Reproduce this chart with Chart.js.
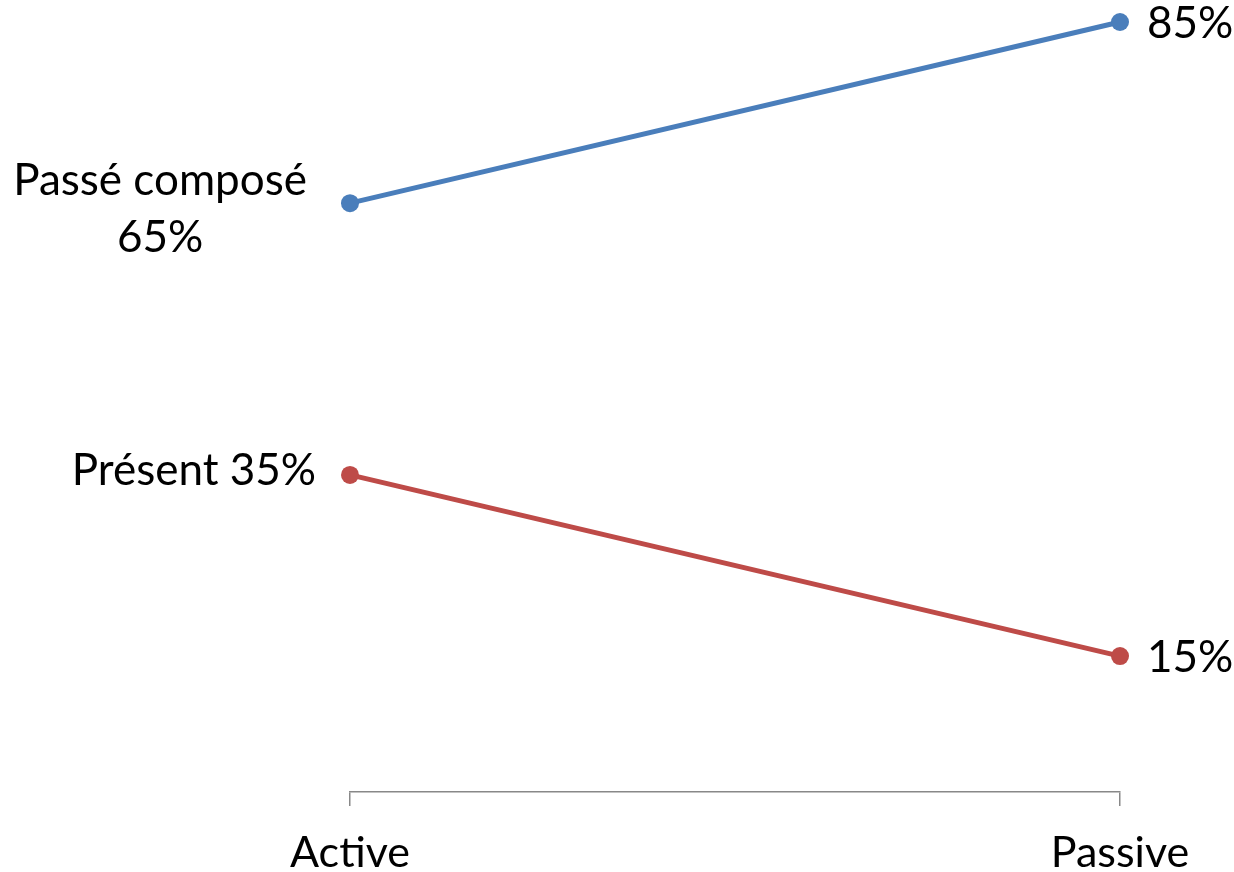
<!DOCTYPE html>
<html>
<head>
<meta charset="utf-8">
<script src="https://cdn.jsdelivr.net/npm/chart.js@4"></script>
<style>
  html, body { margin: 0; padding: 0; background: #ffffff; }
  #wrap { width: 1234px; height: 872px; }
</style>
</head>
<body>
<div id="wrap"><canvas id="c"></canvas></div>
<script>
// Categories on the x axis
const categories = ["Active", "Passive"];
// Series names and their shares (%)
const seriesNames = ["Passé composé", "Présent"];
const passeCompose = [65, 85];
const present = [35, 15];
const seriesColors = ["#4A7EBB", "#BE4B48"];

const FONT_FAMILY = "Lato, Carlito, 'Liberation Sans', sans-serif";
const LABEL_SIZE = 44;

// Draws the value labels next to each point: the series name goes with the
// first category (left of the point), the bare value with the last one (right).
const pointLabels = {
  id: 'pointLabels',
  afterDatasetsDraw(chart) {
    const ctx = chart.ctx;
    ctx.save();
    ctx.font = LABEL_SIZE + 'px ' + FONT_FAMILY;
    ctx.fillStyle = '#000000';
    ctx.textBaseline = 'alphabetic';
    const capHalf = LABEL_SIZE * 0.72 / 2;
    const lineH = 57;
    chart.data.datasets.forEach((ds, i) => {
      const meta = chart.getDatasetMeta(i);
      meta.data.forEach((pt, j) => {
        const val = ds.data[j] + '%';
        const first = j === 0;
        let lines;
        if (first) {
          const one = ds.label + ' ' + val;
          lines = ctx.measureText(one).width > 300 ? [ds.label, val] : [one];
        } else {
          lines = [val];
        }
        const n = lines.length;
        const blockW = Math.max(...lines.map(l => ctx.measureText(l).width));
        const dy = first ? (-6 + (n - 1) * 10) : 0;
        const gap = 34 + (n - 1) * 9;
        lines.forEach((l, k) => {
          const y = pt.y + dy + (k - (n - 1) / 2) * lineH + capHalf;
          if (first) {
            ctx.textAlign = 'center';
            ctx.fillText(l, pt.x - gap - blockW / 2, y);
          } else {
            ctx.textAlign = 'left';
            ctx.fillText(l, pt.x + 27, y);
          }
        });
      });
    });
    ctx.restore();
  }
};

new Chart(document.getElementById('c'), {
  type: 'line',
  data: {
    labels: categories,
    datasets: [
      {
        label: seriesNames[0],
        data: passeCompose,
        borderColor: seriesColors[0],
        backgroundColor: seriesColors[0],
        borderWidth: 5,
        pointRadius: 9,
        pointHoverRadius: 9,
        pointBorderWidth: 0,
        tension: 0,
        clip: false
      },
      {
        label: seriesNames[1],
        data: present,
        borderColor: seriesColors[1],
        backgroundColor: seriesColors[1],
        borderWidth: 5,
        pointRadius: 9,
        pointHoverRadius: 9,
        pointBorderWidth: 0,
        tension: 0,
        clip: false
      }
    ]
  },
  options: {
    responsive: true,
    maintainAspectRatio: false,
    animation: false,
    events: [],
    layout: { padding: { left: 350, right: 114, top: 22, bottom: 0 } },
    plugins: {
      legend: { display: false },
      tooltip: { enabled: false },
      title: { display: false }
    },
    scales: {
      x: {
        offset: false,
        afterFit(scale) { scale.height = 80; },
        border: { display: true, color: '#888888', width: 1.5 },
        grid: {
          display: true,
          drawOnChartArea: false,
          drawTicks: true,
          tickLength: 14,
          color: '#888888',
          lineWidth: 1.5
        },
        ticks: {
          color: '#000000',
          padding: 21,
          font: { family: FONT_FAMILY, size: 43 },
          maxRotation: 0
        }
      },
      y: {
        display: false,
        min: 0,
        max: 85
      }
    }
  },
  plugins: [pointLabels]
});
</script>
</body>
</html>
